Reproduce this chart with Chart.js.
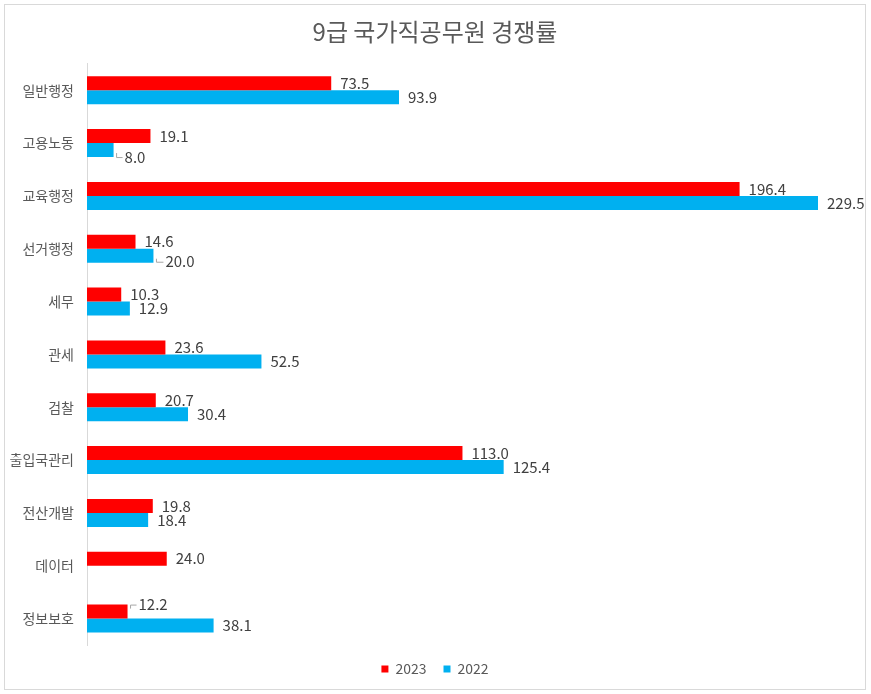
<!DOCTYPE html>
<html>
<head>
<meta charset="utf-8">
<script src="https://cdn.jsdelivr.net/npm/chart.js@4.4.1/dist/chart.umd.min.js"></script>
<style>
  body { margin: 0; background: #fff; }
  #wrap { position: absolute; left: 4px; top: 4px; width: 860px; height: 684px; border: 1px solid #d9d9d9; }
</style>
</head>
<body>
<div id="wrap"><canvas id="chart" width="860" height="684"></canvas></div>
<script>
// 데이터
const categories = ['일반행정', '고용노동', '교육행정', '선거행정', '세무', '관세', '검찰', '출입국관리', '전산개발', '데이터', '정보보호'];
const rate2023 = [73.5, 19.1, 196.4, 14.6, 10.3, 23.6, 20.7, 113.0, 19.8, 24.0, 12.2];
const rate2022 = [93.9, 8.0, 229.5, 20.0, 12.9, 52.5, 30.4, 125.4, 18.4, null, 38.1];

const FONT = '"Noto Sans CJK KR", "Noto Sans", sans-serif';

// 값 라벨 (작은 값은 지시선과 함께 약간 옮겨서)
const labelShift = { '1-1': [11, 7], '1-3': [12, 6], '0-10': [11, -7] };

const valueLabels = {
  id: 'valueLabels',
  afterDatasetsDraw(chart) {
    const ctx = chart.ctx;
    const right = chart.chartArea.right;
    ctx.save();
    ctx.font = '15px ' + FONT;
    ctx.fillStyle = '#404040';
    ctx.textBaseline = 'middle';
    chart.data.datasets.forEach((ds, di) => {
      chart.getDatasetMeta(di).data.forEach((bar, i) => {
        const v = ds.data[i];
        if (v === null) return;
        const end = Math.min(bar.x, right); // 축 최대값에서 잘린 막대
        const s = labelShift[di + '-' + i];
        let x = end + 9, y = bar.y;
        if (s) {
          x = end + s[0];
          y = bar.y + s[1];
          ctx.strokeStyle = '#a6a6a6';
          ctx.lineWidth = 1;
          ctx.beginPath();
          ctx.moveTo(end + 3, bar.y + (s[1] > 0 ? 3 : -3));
          ctx.lineTo(end + 3, y + 0.5);
          ctx.lineTo(x - 2, y + 0.5);
          ctx.stroke();
        }
        ctx.fillText(v.toFixed(1), x, y);
      });
    });
    ctx.restore();
  }
};

new Chart(document.getElementById('chart'), {
  type: 'bar',
  data: {
    labels: categories,
    datasets: [
      { label: '2023', data: rate2023, backgroundColor: '#ff0000' },
      { label: '2022', data: rate2022, backgroundColor: '#00b0f0' }
    ]
  },
  options: {
    indexAxis: 'y',
    responsive: false,
    animation: false,
    categoryPercentage: 0.53,
    barPercentage: 1.0,
    layout: { padding: { top: 0, right: 0, bottom: 3, left: 0 } },
    scales: {
      x: { display: false, min: 0, max: 220 },
      y: {
        grid: { display: false, drawTicks: false },
        border: { color: '#d9d9d9' },
        ticks: { color: '#595959', font: { family: FONT, size: 14 }, padding: 13 },
        afterFit(scale) { scale.width = 82; }
      },
      // 오른쪽 여백용 빈 축
      yRight: {
        type: 'category',
        position: 'right',
        grid: { display: false, drawTicks: false },
        border: { display: false },
        ticks: { display: false },
        afterFit(scale) { scale.width = 47; }
      }
    },
    plugins: {
      title: {
        display: true,
        text: '9급 국가직공무원 경쟁률',
        color: '#595959',
        font: { family: FONT, size: 24, weight: 'normal' },
        padding: { top: 12, bottom: 18 }
      },
      legend: {
        position: 'bottom',
        labels: { color: '#595959', font: { family: FONT, size: 14 }, boxWidth: 7, boxHeight: 7, padding: 17 }
      },
      tooltip: { enabled: false }
    }
  },
  plugins: [valueLabels]
});
</script>
</body>
</html>
